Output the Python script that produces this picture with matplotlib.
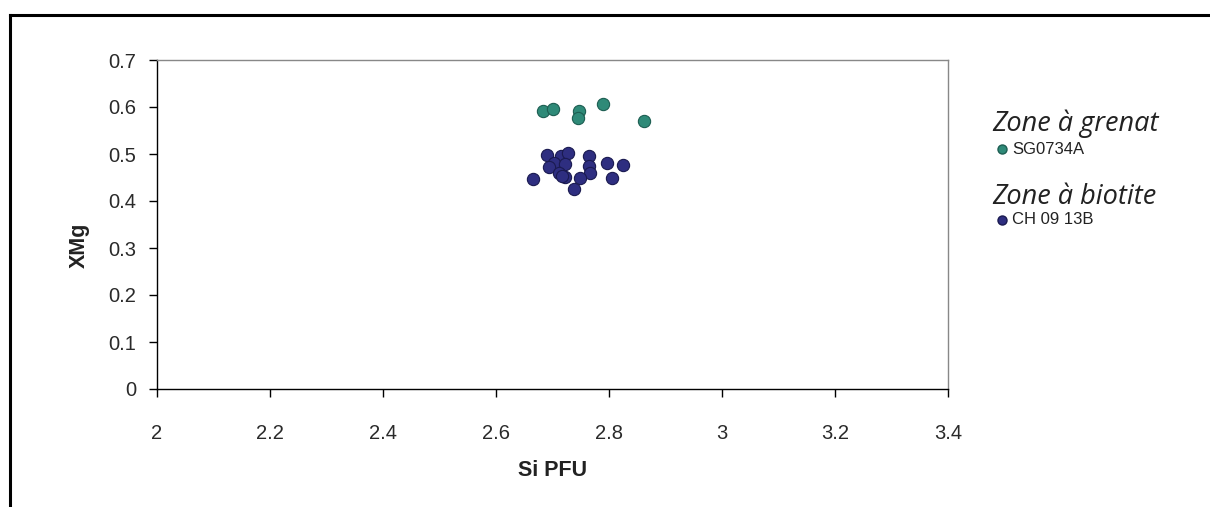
import matplotlib
matplotlib.use("Agg")
import matplotlib.pyplot as plt
from matplotlib.lines import Line2D

# Data
grenat_si = [2.684, 2.700, 2.747, 2.745, 2.789, 2.862]
grenat_xmg = [0.592, 0.596, 0.592, 0.577, 0.607, 0.570]

biotite_si = [2.691, 2.715, 2.727, 2.764, 2.703, 2.722, 2.796, 2.825, 2.694,
              2.764, 2.766, 2.712, 2.722, 2.749, 2.805, 2.666, 2.738, 2.716]
biotite_xmg = [0.498, 0.496, 0.502, 0.496, 0.480, 0.478, 0.480, 0.477, 0.473,
               0.475, 0.460, 0.460, 0.451, 0.450, 0.448, 0.447, 0.425, 0.454]

x_ticks = [2, 2.2, 2.4, 2.6, 2.8, 3, 3.2, 3.4]
x_tick_labels = ["2", "2.2", "2.4", "2.6", "2.8", "3", "3.2", "3.4"]
y_ticks = [0, 0.1, 0.2, 0.3, 0.4, 0.5, 0.6, 0.7]
y_tick_labels = ["0", "0.1", "0.2", "0.3", "0.4", "0.5", "0.6", "0.7"]

green = "#2f8a78"
green_edge = "#1d5e52"
blue = "#2e2e80"
blue_edge = "#1a1a50"

plt.rcParams['font.family'] = ['Liberation Sans', 'DejaVu Sans']

fig = plt.figure(figsize=(12.1, 5.07), dpi=100)
ax = fig.add_axes([157/1210, 1-389/507, (948-157)/1210, (389-60)/507])

ax.scatter(grenat_si, grenat_xmg, s=78, c=green, edgecolors=green_edge, linewidths=0.8, zorder=3)
ax.scatter(biotite_si, biotite_xmg, s=78, c=blue, edgecolors=blue_edge, linewidths=0.8, zorder=3)

ax.set_xlim(2, 3.4)
ax.set_ylim(0, 0.7)
ax.set_xticks(x_ticks)
ax.set_xticklabels(x_tick_labels)
ax.set_yticks(y_ticks)
ax.set_yticklabels(y_tick_labels)

ax.tick_params(axis='x', direction='out', length=6, width=1, pad=19, labelsize=14.5, colors='black', labelcolor='#2a2a2a')
ax.tick_params(axis='y', direction='out', length=6, width=1, pad=9, labelsize=14.5, colors='black', labelcolor='#2a2a2a')

ax.spines['left'].set_color('black')
ax.spines['bottom'].set_color('black')
ax.spines['top'].set_color('#888888')
ax.spines['right'].set_color('#888888')
for sp in ax.spines.values():
    sp.set_linewidth(1.0)

ax.set_xlabel("Si PFU", fontsize=15.5, fontweight='bold', color='#222222')
ax.xaxis.set_label_coords(0.5, -0.215)
ax.set_ylabel("XMg", fontsize=15.5, fontweight='bold', color='#222222')
ax.yaxis.set_label_coords(-0.085, 0.438)

# Legend (manual, Excel-style)
W, H = 1210, 507
def fx(px):
    return px / W
def fy(py):
    return 1 - py / H

fig.text(fx(992), fy(124), "Zone à grenat", fontsize=19.5, style='italic',
         family=['Open Sans', 'DejaVu Sans'], va='center', ha='left', color='#222222')
fig.add_artist(Line2D([fx(1002)], [fy(149)], marker='o', markersize=6.5,
                      markerfacecolor=green, markeredgecolor=green_edge, linestyle='none'))
fig.text(fx(1012), fy(149), "SG0734A", fontsize=12, va='center', ha='left',
         color='#222222')

fig.text(fx(992), fy(197), "Zone à biotite", fontsize=19.5, style='italic',
         family=['Open Sans', 'DejaVu Sans'], va='center', ha='left', color='#222222')
fig.add_artist(Line2D([fx(1002)], [fy(220)], marker='o', markersize=6.5,
                      markerfacecolor=blue, markeredgecolor=blue_edge, linestyle='none'))
fig.text(fx(1012), fy(220), "CH 09 13B", fontsize=12, va='center', ha='left',
         color='#222222')

# Outer frame (left and top only, as cropped)
fig.add_artist(Line2D([fx(10), fx(10)], [fy(15), 0], color='black', linewidth=2.2))
fig.add_artist(Line2D([fx(10), 1], [fy(15), fy(15)], color='black', linewidth=2.2))

fig.savefig("out.png", dpi=100, facecolor='white')
